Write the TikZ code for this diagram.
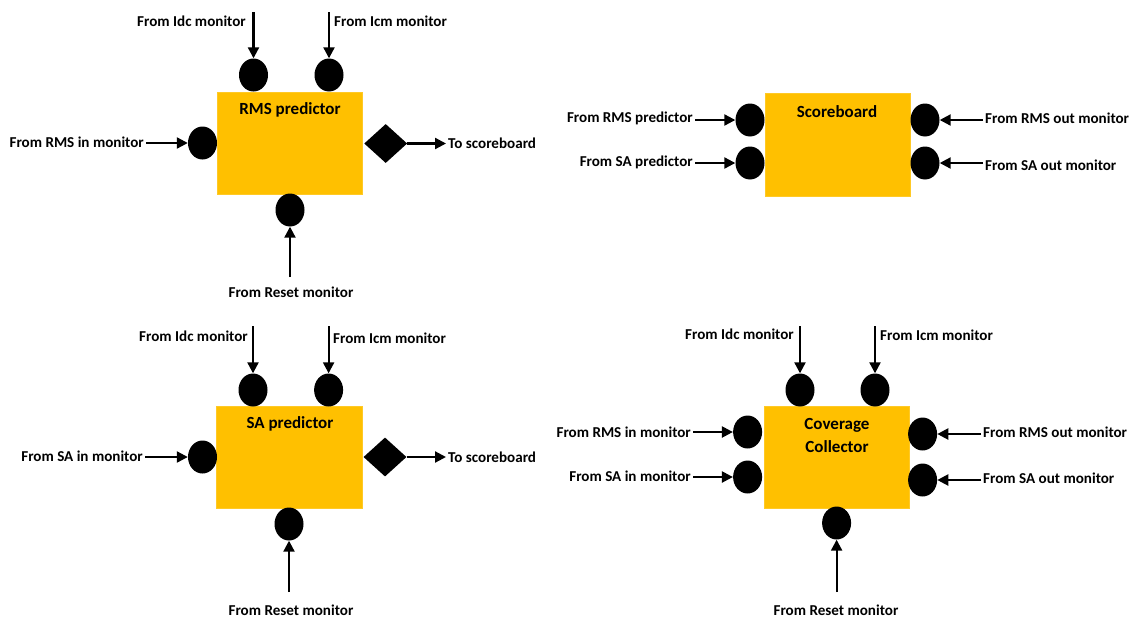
\documentclass[tikz,border=0pt]{standalone}
\usepackage{fontspec}
\setmainfont{Carlito}
\usetikzlibrary{shapes.geometric,arrows.meta}
\definecolor{boxgold}{HTML}{FFC000}
\tikzset{
  blk/.style={fill=boxgold, draw=boxgold!85!white, line width=0.6pt},
  port/.style={ellipse, fill=black, inner sep=0pt, minimum width=29pt, minimum height=33pt},
  outport/.style={diamond, fill=black, inner sep=0pt, minimum width=43pt, minimum height=39pt},
  lbl/.style={inner sep=2pt, font=\fontsize{15.1}{17}\selectfont\bfseries},
  ttl/.style={inner sep=0pt, align=center, font=\fontsize{17}{23}\selectfont\bfseries},
  arr/.style={line width=2.2pt, -{Triangle[length=11pt,width=11pt]}}
}
\begin{document}
\begin{tikzpicture}[x=1pt,y=-1pt]
\useasboundingbox (0,0) rectangle (1134,619);

% ===== RMS predictor =====
\path[blk] (217,92) rectangle (362,194);
\node[ttl] (t1) at (290,110) {RMS predictor};
\node[port] (r1a) at (253.5,75) {};
\node[port] (r1b) at (329,75) {};
\node[port] (r1l) at (202.5,143) {};
\node[port] (r1d) at (290,210) {};
\node[outport] (r1o) at (385.7,143.5) {};
\node[lbl, anchor=east] (l1a) at (248,21) {From Idc monitor};
\node[lbl, anchor=west] (l1b) at (332,21) {From Icm monitor};
\node[lbl, anchor=east] (l1l) at (146,142) {From RMS in monitor};
\node[lbl, anchor=west] (l1o) at (446,143) {To scoreboard};
\node[lbl] (l1d) at (291,292) {From Reset monitor};
\coordinate (s1a) at (253.5,12);
\coordinate (s1b) at (329,12);
\coordinate (s1d) at (290,277);
\draw[arr] (s1a) -- (r1a.north);
\draw[arr] (s1b) -- (r1b.north);
\draw[arr] (l1l.east |- r1l.west) -- (r1l.west);
\draw[arr] (r1o.east) -- (l1o.west |- r1o.east);
\draw[arr] (s1d) -- (r1d.south);

% ===== SA predictor =====
\path[blk] (216,406) rectangle (362,508);
\node[ttl] (t2) at (290,424) {SA predictor};
\node[port] (r2a) at (253,390) {};
\node[port] (r2b) at (328.6,390) {};
\node[port] (r2l) at (202.5,457) {};
\node[port] (r2d) at (289,524) {};
\node[outport] (r2o) at (385,457) {};
\node[lbl, anchor=east] (l2a) at (250,336) {From Idc monitor};
\node[lbl, anchor=west] (l2b) at (331,338) {From Icm monitor};
\node[lbl, anchor=east] (l2l) at (145,456) {From SA in monitor};
\node[lbl, anchor=west] (l2o) at (446,457) {To scoreboard};
\node[lbl] (l2d) at (291,610) {From Reset monitor};
\coordinate (s2a) at (253,326);
\coordinate (s2b) at (328.6,326);
\coordinate (s2d) at (289,592);
\draw[arr] (s2a) -- (r2a.north);
\draw[arr] (s2b) -- (r2b.north);
\draw[arr] (l2l.east |- r2l.west) -- (r2l.west);
\draw[arr] (r2o.east) -- (l2o.west |- r2o.east);
\draw[arr] (s2d) -- (r2d.south);

% ===== Scoreboard =====
\path[blk] (765,93) rectangle (910,196);
\node[ttl] (t3) at (837,112) {Scoreboard};
\node[port] (r3l1) at (750,120) {};
\node[port] (r3l2) at (750,163) {};
\node[port] (r3r1) at (925,120) {};
\node[port] (r3r2) at (925,163) {};
\node[lbl, anchor=east] (l3l1) at (695,118) {From RMS predictor};
\node[lbl, anchor=east] (l3l2) at (695,162) {From SA predictor};
\node[lbl, anchor=west] (l3r1) at (983,118) {From RMS out monitor};
\node[lbl, anchor=west] (l3r2) at (983,165) {From SA out monitor};
\draw[arr] (l3l1.east |- r3l1.west) -- (r3l1.west);
\draw[arr] (l3l2.east |- r3l2.west) -- (r3l2.west);
\draw[arr] (l3r1.west |- r3r1.east) -- (r3r1.east);
\draw[arr] (l3r2.west |- r3r2.east) -- (r3r2.east);

% ===== Coverage Collector =====
\path[blk] (764,406) rectangle (909,508);
\node[ttl] (t4) at (837,435.5) {Coverage\\Collector};
\node[port] (r4a) at (800,390) {};
\node[port] (r4b) at (875,390) {};
\node[port] (r4l1) at (747.6,432) {};
\node[port] (r4l2) at (747.6,477) {};
\node[port] (r4r1) at (922.6,434) {};
\node[port] (r4r2) at (922.6,480) {};
\node[port] (r4d) at (836.6,523) {};
\node[lbl, anchor=east] (l4a) at (796,334) {From Idc monitor};
\node[lbl, anchor=west] (l4b) at (878,335) {From Icm monitor};
\node[lbl, anchor=east] (l4l1) at (693,432) {From RMS in monitor};
\node[lbl, anchor=east] (l4l2) at (693,476) {From SA in monitor};
\node[lbl, anchor=west] (l4r1) at (981,432) {From RMS out monitor};
\node[lbl, anchor=west] (l4r2) at (981,478) {From SA out monitor};
\node[lbl] (l4d) at (836,610) {From Reset monitor};
\coordinate (s4a) at (800,326);
\coordinate (s4b) at (875,326);
\coordinate (s4d) at (836.6,592);
\draw[arr] (s4a) -- (r4a.north);
\draw[arr] (s4b) -- (r4b.north);
\draw[arr] (l4l1.east |- r4l1.west) -- (r4l1.west);
\draw[arr] (l4l2.east |- r4l2.west) -- (r4l2.west);
\draw[arr] (l4r1.west |- r4r1.east) -- (r4r1.east);
\draw[arr] (l4r2.west |- r4r2.east) -- (r4r2.east);
\draw[arr] (s4d) -- (r4d.south);
\end{tikzpicture}
\end{document}
